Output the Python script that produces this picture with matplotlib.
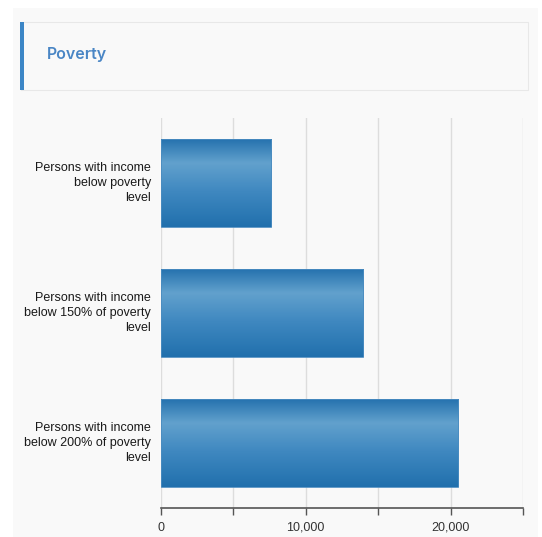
import numpy as np
import matplotlib
matplotlib.use("Agg")
import matplotlib.pyplot as plt
from matplotlib.patches import Rectangle
from matplotlib.colors import LinearSegmentedColormap

categories = [
    "Persons with income\nbelow poverty\nlevel",
    "Persons with income\nbelow 150% of poverty\nlevel",
    "Persons with income\nbelow 200% of poverty\nlevel",
]
values = [7600, 13950, 20500]
tick_vals = [0, 10000, 20000]
tick_labels = ["0", "10,000", "20,000"]
title = "Poverty"

W, H = 542, 537
fig = plt.figure(figsize=(W / 100, H / 100), dpi=100)
fig.patch.set_facecolor("white")

# grey panel behind everything
fig.add_artist(Rectangle((13 / W, 0), (538 - 13) / W, (H - 8) / H,
                         transform=fig.transFigure, facecolor="#f9f9f9",
                         edgecolor="none", zorder=0))
# header box
fig.add_artist(Rectangle((21 / W, (H - 90) / H), (528 - 21) / W, 68 / H,
                         transform=fig.transFigure, facecolor="#f9f9f9",
                         edgecolor="#e8e8e8", linewidth=0.8, zorder=1))
fig.add_artist(Rectangle((20 / W, (H - 90) / H), 4 / W, 68 / H,
                         transform=fig.transFigure, facecolor="#3c86c6",
                         edgecolor="none", zorder=2))
fig.text(47 / W, (H - 55) / H, title, color="#4a86c5", fontsize=11.5,
         fontweight="semibold", family="Inter", va="center", ha="left")

ax = fig.add_axes([160.7 / W, 29 / H, (523 - 160.7) / W, 390 / H])
ax.set_facecolor("none")
ax.set_zorder(3)

y = np.arange(len(categories))
bars = ax.barh(y, values, height=0.677, color="none", edgecolor="#4b8cc0",
               linewidth=0.6, zorder=3)

cmap = LinearSegmentedColormap.from_list(
    "bar", [(0, "#2370ad"), (0.28, "#62a1cd"), (0.6, "#3f88c0"), (1, "#2170ad")])
grad = np.linspace(0, 1, 256).reshape(-1, 1)
for b in bars:
    x0, y0, w, h = b.get_x(), b.get_y(), b.get_width(), b.get_height()
    im = ax.imshow(grad, cmap=cmap, aspect="auto", extent=(x0, x0 + w, y0 + h, y0),
                   origin="upper", zorder=2, interpolation="bilinear")
    im.set_clip_path(b)

ax.set_xlim(0, 25000)
ax.set_ylim(len(categories) - 0.5, -0.5)
ax.set_xticks(np.arange(0, 25001, 5000))
ax.set_xticklabels([tick_labels[tick_vals.index(v)] if v in tick_vals else "" for v in range(0, 25001, 5000)],
                   fontsize=9, color="#333333", family="Liberation Sans")
ax.tick_params(axis="x", length=5, width=1, color="#555555", pad=5)
ax.grid(axis="x", color="#dddddd", linewidth=1)
ax.set_axisbelow(True)

# category labels, right aligned line by line
ax.set_yticks([])
for yi, lab in zip(y, categories):
    ax.annotate(lab, xy=(0, yi), xycoords=ax.get_yaxis_transform(),
                xytext=(-7, 0), textcoords="offset points",
                ha="right", va="center", multialignment="right",
                fontsize=9, color="#1a1a1a", family="Liberation Sans",
                linespacing=1.38, annotation_clip=False)

for s in ["top", "right", "left"]:
    ax.spines[s].set_visible(False)
ax.spines["bottom"].set_color("#555555")
ax.spines["bottom"].set_linewidth(1.2)

fig.savefig("out.png", dpi=100)
